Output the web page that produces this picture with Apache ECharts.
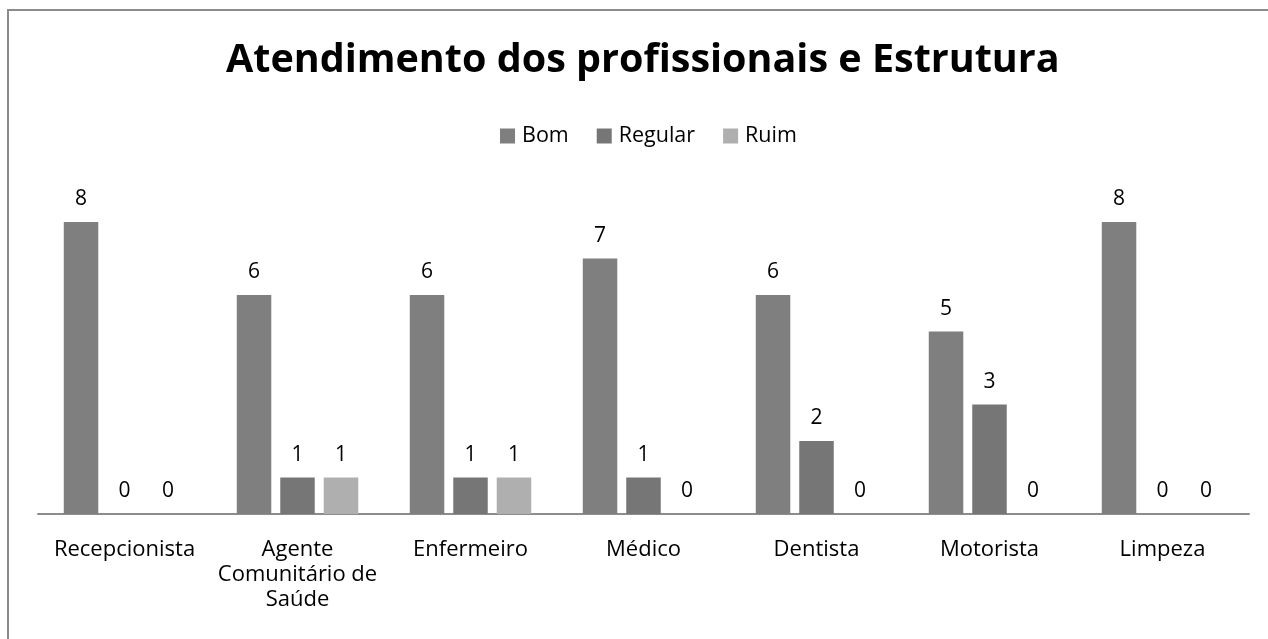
<!DOCTYPE html>
<html>
<head>
<meta charset="utf-8">
<script src="https://cdn.jsdelivr.net/npm/echarts@6/dist/echarts.min.js"></script>
<style>html,body{margin:0;padding:0;background:#fff}#c{width:1268px;height:639px}</style>
</head>
<body>
<div id="c"></div>
<script>
const titleText = 'Atendimento dos profissionais e Estrutura';
const categories = ['Recepcionista', 'Agente\nComunitário de\nSaúde', 'Enfermeiro', 'Médico', 'Dentista', 'Motorista', 'Limpeza'];
const seriesNames = ['Bom', 'Regular', 'Ruim'];
const bom = [8, 6, 6, 7, 6, 5, 8];
const regular = [0, 1, 1, 1, 2, 3, 0];
const ruim = [0, 1, 1, 0, 0, 0, 0];
const colors = ['#7f7f7f', '#767676', '#afafaf'];

const FONT = 'Open Sans';
const chart = echarts.init(document.getElementById('c'), null, {renderer: 'canvas'});
const mk = (name, data, color) => ({
  name, type: 'bar', data, barWidth: 34.5, barGap: '26%',
  itemStyle: {color},
  label: {show: true, position: 'top', distance: 12, color: '#000', fontFamily: FONT, fontSize: 21}
});
chart.setOption({
  animation: false,
  textStyle: {fontFamily: FONT},
  title: {
    text: titleText, left: 221, top: 36,
    textStyle: {fontFamily: FONT, fontWeight: 'bold', fontSize: 39.5, color: '#000'}
  },
  legend: {
    data: seriesNames, top: 120, left: 495, itemWidth: 15, itemHeight: 15, itemGap: 28,
    icon: 'rect',
    textStyle: {fontFamily: FONT, fontSize: 21.5, color: '#000', padding: [0, 0, 0, 2]}
  },
  grid: {left: 38, right: 19, top: 222, bottom: 125, containLabel: false},
  xAxis: {
    type: 'category', data: categories,
    axisLine: {lineStyle: {color: '#8c8c8c', width: 2}},
    axisTick: {show: false},
    axisLabel: {color: '#000', fontFamily: FONT, fontSize: 22, lineHeight: 25, margin: 23, interval: 0}
  },
  yAxis: {type: 'value', min: 0, max: 8, show: false, splitLine: {show: false}},
  series: [mk(seriesNames[0], bom, colors[0]), mk(seriesNames[1], regular, colors[1]), mk(seriesNames[2], ruim, colors[2])],
  graphic: [{
    type: 'rect', shape: {x: 8, y: 10, width: 1400, height: 800},
    style: {fill: 'none', stroke: '#8c8c8c', lineWidth: 2}, silent: true
  }]
});
</script>
</body>
</html>
